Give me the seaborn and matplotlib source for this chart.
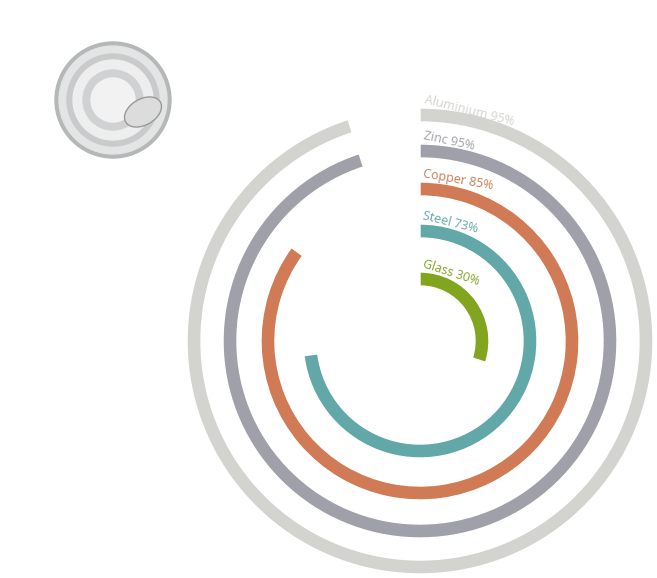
import matplotlib
matplotlib.use("Agg")
import matplotlib.pyplot as plt
import seaborn as sns
import numpy as np
from matplotlib.patches import Circle, Ellipse

sns.set_style("white")
plt.rcParams['font.family'] = ['Open Sans', 'DejaVu Sans']

materials = ["Aluminium", "Zinc", "Copper", "Steel", "Glass"]
values = [95, 95, 85, 73, 30]
radii = [226, 190, 152, 110, 62]
colors = ["#d3d3cf", "#9fa0a9", "#d07b55", "#62a8a8", "#82a51f"]
rots = [-14, -12, -10, -14, -18]

W, H = 657, 578
fig = plt.figure(figsize=(W/100, H/100), dpi=100)
cx, cy, R = 420, 341, 245
ax = fig.add_axes([(cx-R)/W, (H-cy-R)/H, 2*R/W, 2*R/H], projection='polar')
ax.set_theta_zero_location('N')
ax.set_theta_direction(-1)
ax.set_ylim(0, R)
for m, v, r, c, rot in zip(materials, values, radii, colors, rots):
    ax.barh(r, np.deg2rad(v*3.6), left=0, height=14, color=c, align='center')
    ax.text(np.deg2rad(0.8), r + 9, f"{m} {v}%", color=c, fontsize=9,
            ha='left', va='bottom', rotation=rot, rotation_mode='anchor')
ax.axis('off')

# can illustration
ax2 = fig.add_axes([0, 0, 1, 1])
ax2.set_xlim(0, W); ax2.set_ylim(H, 0); ax2.axis('off')
ax2.set_aspect('equal')
for rr, col in [(58, "#b5b7b8"), (54, "#e3e4e4"), (46, "#c9cacb"), (40, "#eeeeee"),
                (30, "#d0d1d2"), (22, "#f2f2f2")]:
    ax2.add_patch(Circle((113, 100), rr, color=col))
ax2.add_patch(Ellipse((143, 112), 40, 26, angle=-30, fc="#dcdcdc", ec="#999999"))

fig.savefig("out.png", dpi=100)
